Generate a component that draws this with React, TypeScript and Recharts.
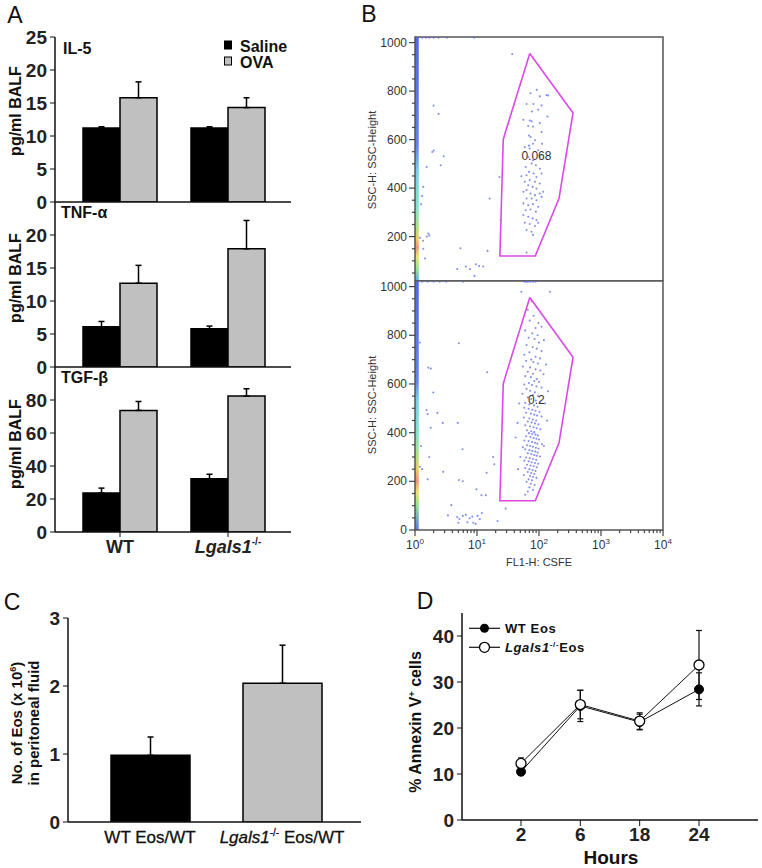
import React from 'react';
import {
  BarChart, Bar, XAxis, YAxis, ErrorBar, Cell, ScatterChart, Scatter,
  ReferenceArea, ReferenceDot, LineChart, Line,
} from 'recharts';

const FONT = '"Liberation Sans", Arial, Helvetica, sans-serif';

// ---------- A: BALF cytokines (pg/ml)
const genotypes = ['WT', 'Lgals1-/-'];
const il5Saline = [11.2, 11.2];
const il5SalineErr = [0.2, 0.2];
const il5Ova = [15.8, 14.3];
const il5OvaErr = [2.4, 1.5];
const tnfSaline = [6.1, 5.8];
const tnfSalineErr = [0.8, 0.4];
const tnfOva = [12.7, 17.9];
const tnfOvaErr = [2.7, 4.3];
const tgfSaline = [23.6, 32.3];
const tgfSalineErr = [3.0, 2.7];
const tgfOva = [73.7, 82.4];
const tgfOvaErr = [5.4, 4.4];

// ---------- B: flow cytometry (FL1-H, SSC-H)
const gateVertices: [number, number][] = [
  [71, 955], [354, 710], [210, 357], [87, 120], [23.4, 120], [26.5, 600], [28.5, 628], [71, 955],
];
const topEvents: [number, number][] = [
  [92, 805], [73, 791], [132, 784], [103, 778], [140, 782], [63, 747], [81, 747], [110, 741],
  [77, 716], [97, 723], [137, 695], [56, 682], [71, 679], [76, 675], [103, 668], [67, 656],
  [80, 654], [69, 617], [110, 631], [73, 611], [86, 597], [80, 583], [69, 575], [112, 583],
  [59, 569], [71, 563], [97, 556], [67, 528], [103, 528], [80, 515], [76, 501], [89, 494],
  [61, 487], [103, 480], [69, 467], [82, 460], [52, 449], [63, 453], [91, 446], [110, 460],
  [59, 426], [71, 433], [86, 426], [103, 419], [67, 412], [79, 405], [63, 392], [91, 398],
  [117, 385], [56, 385], [73, 378], [86, 371], [103, 378], [63, 357], [76, 357], [91, 350],
  [110, 364], [56, 337], [67, 330], [80, 334], [97, 323], [61, 309], [73, 312], [89, 303],
  [56, 289], [67, 282], [79, 275], [91, 268], [59, 257], [71, 252], [86, 244], [63, 227],
  [76, 220], [97, 257], [80, 207], [63, 134],
  [2.0, 740], [2.4, 706], [1.9, 549], [2.0, 555], [2.9, 531], [2.6, 494], [1.54, 487],
  [1.36, 405], [1.3, 367], [1.25, 333], [1.64, 213], [1.7, 205], [1.55, 200], [1.35, 183],
  [1.2, 195], [1.36, 150], [1.45, 110], [5.4, 152], [4.8, 66], [6.6, 77], [7.7, 66],
  [9.6, 86], [10.8, 79], [12.6, 77], [9.1, 38], [14.8, 141], [16, 357], [23, 446],
  [24, 268], [37, 953], [1.1, 890],
];
const topSaturated: [number, number][] = [
  [1.1, 1020], [1.3, 1020], [1.5, 1020], [1.7, 1020], [2.0, 1020], [2.4, 1020], [3.3, 1020], [9, 1020],
];
const bottomEvents: [number, number][] = [
  [76, 940], [92, 915], [66, 905], [82, 880], [71, 860], [98, 850], [88, 830], [60, 820],
  [110, 835], [78, 808], [95, 800], [68, 790], [85, 785], [120, 780], [100, 770], [63, 760],
  [79, 752], [92, 745], [110, 735], [70, 730], [58, 720], [88, 712], [104, 705], [75, 700],
  [62, 695], [81, 690], [96, 684], [130, 680], [55, 672], [72, 668], [88, 660], [105, 655],
  [66, 650], [80, 642], [118, 640], [60, 632], [74, 628], [92, 620], [84, 612], [100, 608],
  [69, 604], [58, 598], [77, 596], [91, 590], [110, 585], [63, 580], [72, 572], [86, 566],
  [140, 570], [54, 560], [80, 555], [97, 550], [66, 545], [75, 538], [89, 532], [104, 528],
  [60, 522], [70, 516], [83, 512], [95, 506], [125, 520], [58, 502], [68, 498], [78, 494],
  [88, 490], [102, 486], [62, 482], [74, 478], [84, 474], [93, 470], [110, 466], [57, 462],
  [70, 458], [80, 454], [90, 450], [66, 446], [76, 442], [86, 438], [98, 434], [60, 430],
  [72, 426], [82, 422], [92, 418], [105, 414], [64, 410], [75, 406], [84, 402], [135, 450],
  [69, 398], [78, 395], [88, 392], [96, 388], [62, 385], [73, 382], [82, 378], [91, 375],
  [100, 372], [58, 368], [68, 365], [77, 362], [86, 358], [94, 355], [112, 352], [64, 348],
  [72, 345], [80, 342], [89, 338], [98, 335], [60, 332], [70, 328], [78, 325], [87, 322],
  [95, 318], [66, 315], [75, 312], [84, 308], [92, 305], [104, 302], [120, 345], [55, 340],
  [62, 298], [71, 295], [80, 292], [90, 288], [58, 285], [68, 282], [76, 278], [86, 275],
  [97, 272], [64, 268], [73, 265], [82, 262], [92, 258], [60, 255], [70, 250], [79, 246],
  [88, 242], [66, 238], [75, 234], [84, 230], [57, 226], [72, 222], [80, 218], [91, 214],
  [68, 208], [77, 204], [63, 198], [74, 190], [85, 185], [70, 175], [80, 165], [66, 158],
  [60, 145], [48, 520], [45, 440], [42, 380], [50, 300], [46, 250],
  [5.1, 767], [1.2, 770], [1.64, 667], [1.8, 663], [1.97, 565], [14.6, 648], [1.54, 493],
  [1.6, 476], [2.3, 481], [1.8, 420], [2.8, 440], [4.9, 440], [5.85, 332], [1.25, 345],
  [1.7, 300], [1.2, 260], [1.3, 250], [2.85, 239], [1.6, 208], [5.1, 205], [5.9, 200],
  [14.3, 235], [9.8, 167], [11.8, 143], [13.9, 143], [18.2, 300], [19, 270], [3.85, 102],
  [3.4, 60], [4.8, 53], [5.2, 45], [5.9, 58], [6.6, 62], [7.6, 48], [8.4, 55], [8.7, 30],
  [10.2, 58], [11.1, 45], [12, 70], [9.5, 25], [7, 32], [5, 30], [21.5, 37], [29, 88],
  [52, 979], [150, 979],
];
const bottomSaturated: [number, number][] = [
  [1.1, 1020], [1.3, 1020], [1.6, 1020], [2.0, 1020], [2.5, 1020], [3.2, 1020], [6, 1020],
  [58, 1020], [62, 1020], [66, 1020], [72, 1020], [80, 1020], [88, 1020],
];
const flowXTicks = [
  1, 2, 3, 4, 5, 6, 7, 8, 9, 10, 20, 30, 40, 50, 60, 70, 80, 90, 100, 200, 300, 400, 500,
  600, 700, 800, 900, 1000, 2000, 3000, 4000, 5000, 6000, 7000, 8000, 9000, 10000,
];
const flowDecades = [1, 10, 100, 1000, 10000];
const flowExponents = ['0', '1', '2', '3', '4'];
const topYTicks = [50, 100, 150, 200, 250, 300, 350, 400, 450, 500, 550, 600, 650, 700, 750, 800, 850, 900, 950, 1000];
const bottomYTicks = [0, 50, 100, 150, 200, 250, 300, 350, 400, 450, 500, 550, 600, 650, 700, 750, 800, 850, 900, 950, 1000];

// ---------- C: transferred eosinophils
const transferGroups = ['WT Eos/WT', 'Lgals1-/- Eos/WT'];
const transferEos = [0.98, 2.04];
const transferErr = [0.27, 0.56];
const transferFills = ['#000000', '#c0c0c0'];

// ---------- D: annexin V
const hours = ['2', '6', '18', '24'];
const wtAnnexin = [10.5, 24.8, 21.3, 28.4];
const wtAnnexinErr = [0.6, 3.4, 1.7, 3.6];
const koAnnexin = [12.3, 25.1, 21.5, 33.7];
const koAnnexinErr = [1.2, 3.1, 1.8, 7.5];

const cytokineRows = (sal: number[], salErr: number[], ova: number[], ovaErr: number[]) =>
  genotypes.map((g, i) => ({ genotype: g, saline: sal[i], salineErr: [0, salErr[i]], ova: ova[i], ovaErr: [0, ovaErr[i]] }));

const toPoints = (pts: [number, number][]) => pts.map(([x, y]) => ({ x, y }));

const axisLine = { stroke: '#111', strokeWidth: 1.5 };
const tickFont = { fontSize: 19, fontWeight: 700, fill: '#222' };

function GenotypeTick(props: any) {
  const { x, y, payload } = props;
  return (
    <text x={x} y={y} dy={14} textAnchor="middle" fontSize={18} fontWeight={700} fill="#222">
      {payload.value === 'WT' ? 'WT' : (
        <>
          <tspan fontStyle="italic">Lgals1</tspan>
          <tspan fontSize={10} dy={-8}>-/-</tspan>
        </>
      )}
    </text>
  );
}

function TransferTick(props: any) {
  const { x, y, payload } = props;
  return (
    <text x={x} y={y} dy={21} textAnchor="middle" fontSize={17} fill="#111" stroke="#111" strokeWidth={0.3}>
      {payload.value === 'WT Eos/WT' ? 'WT Eos/WT' : (
        <>
          <tspan fontStyle="italic">Lgals1</tspan>
          <tspan fontSize={10} dy={-7}>-/-</tspan>
          <tspan dy={7}> Eos/WT</tspan>
        </>
      )}
    </text>
  );
}

function FlowYTick(props: any) {
  const { x, y, payload } = props;
  const major = payload.value % 200 === 0;
  return (
    <g>
      <line x1={x - (major ? 6 : 3)} x2={x} y1={y} y2={y} stroke="#444" strokeWidth={1.2} />
      {major && (
        <text x={x - 8} y={y} dy={4} textAnchor="end" fontSize={12} fill="#333">{payload.value}</text>
      )}
    </g>
  );
}

function FlowXTick(props: any) {
  const { x, y, payload } = props;
  const k = flowDecades.indexOf(payload.value);
  return (
    <g>
      <line x1={x} x2={x} y1={y} y2={y + (k >= 0 ? 6 : 3)} stroke="#444" strokeWidth={1.2} />
      {k >= 0 && (
        <text x={x} y={y + 19} textAnchor="middle" fontSize={12} fill="#333">
          10<tspan fontSize={8} dy={-5}>{flowExponents[k]}</tspan>
        </text>
      )}
    </g>
  );
}

function CytokinePlot({ rows, yMax, ticks, top, showGenotypes }: any) {
  return (
    <div style={{ position: 'absolute', left: 0, top: top - 20 }}>
      <BarChart width={300} height={215} data={rows} margin={{ top: 20, right: 9, bottom: 0, left: 0 }} barGap={0} barSize={37}>
        <XAxis dataKey="genotype" padding={{ left: 11, right: 9 }} height={30} axisLine={axisLine}
          tickLine={showGenotypes ? { stroke: '#111' } : false} tickSize={5} tickMargin={2} interval={0}
          tick={showGenotypes ? <GenotypeTick /> : false} />
        <XAxis xAxisId="top" orientation="top" dataKey="genotype" height={0} axisLine={axisLine} tick={false} tickLine={false} />
        <YAxis width={55} domain={[0, yMax]} ticks={ticks} interval={0} allowDataOverflow axisLine={axisLine}
          tickLine={{ stroke: '#111' }} tickSize={5} tickMargin={3} tick={tickFont} />
        <YAxis yAxisId="right" orientation="right" width={0} axisLine={axisLine} tick={false} tickLine={false} />
        <Bar dataKey="saline" fill="#000" stroke="#000" strokeWidth={1.5} isAnimationActive={false}>
          <ErrorBar dataKey="salineErr" width={3} stroke="#000" strokeWidth={1.5} />
        </Bar>
        <Bar dataKey="ova" fill="#c0c0c0" stroke="#000" strokeWidth={1.5} isAnimationActive={false}>
          <ErrorBar dataKey="ovaErr" width={3} stroke="#000" strokeWidth={1.5} />
        </Bar>
      </BarChart>
    </div>
  );
}

function FlowPlot({ top, height, yMin, yTicks, events, saturated, freq, gradId, stops, showX }: any) {
  const dot = (p: any) => <circle cx={p.cx} cy={p.cy} r={1.05} fill="#5b6ce6" fillOpacity={0.75} />;
  return (
    <div style={{ position: 'absolute', left: 360, top }}>
      <ScatterChart width={313} height={height} margin={{ top: 17, right: 10, bottom: 0, left: 0 }}>
        <defs>
          <linearGradient id={gradId} x1="0" y1="0" x2="0" y2="1">
            {stops.map(([o, c]: [string, string]) => <stop key={o} offset={o} stopColor={c} />)}
          </linearGradient>
        </defs>
        <XAxis type="number" dataKey="x" scale="log" domain={[1, 10000]} allowDataOverflow height={showX ? 40 : 0}
          ticks={flowXTicks} interval={0} tickSize={0} tickMargin={0} tickLine={false} axisLine={false}
          tick={showX ? <FlowXTick /> : false} />
        <YAxis type="number" dataKey="y" domain={[yMin, 1023]} allowDataOverflow width={55} ticks={yTicks}
          interval={0} tickSize={0} tickMargin={0} tickLine={false} axisLine={false} tick={<FlowYTick />} />
        <ReferenceArea x1={1} x2={1.15} y1={yMin} y2={1023} fill={`url(#${gradId})`} fillOpacity={0.85} stroke="none" />
        <ReferenceArea x1={1} x2={10000} y1={yMin} y2={1023} fill="none" stroke="#555" strokeWidth={1.5} />
        <Scatter data={toPoints(events)} shape={dot} isAnimationActive={false} />
        <Scatter data={toPoints(saturated)} shape={dot} isAnimationActive={false} />
        <Scatter data={toPoints(gateVertices)} line={{ stroke: '#d94ae6', strokeWidth: 1.6 }} shape={() => <g />} isAnimationActive={false} />
        <ReferenceDot x={freq[0]} y={freq[1]} r={0} stroke="none" fill="none"
          label={{ value: freq[2], position: 'center', fontSize: 12, fill: '#333' }} />
      </ScatterChart>
    </div>
  );
}

const topStops = [
  ['0', '#3050e0'], ['0.45', '#4a70e8'], ['0.55', '#60c8e8'], ['0.7', '#70e0c0'], ['0.78', '#a0e070'],
  ['0.83', '#f0c040'], ['0.86', '#f08060'], ['0.9', '#e8e050'], ['0.95', '#80e080'], ['1', '#40a0e0'],
];
const bottomStops = [
  ['0', '#3050e0'], ['0.4', '#4a70e8'], ['0.48', '#60c8e8'], ['0.62', '#70e0c0'], ['0.7', '#a0e070'],
  ['0.76', '#f0c040'], ['0.8', '#f08060'], ['0.85', '#e8e050'], ['0.9', '#80e080'], ['1', '#4060e0'],
];

const Txt = ({ x, y, size, bold, rotate, children, style }: any) => (
  <div style={{
    position: 'absolute', left: x, top: y, whiteSpace: 'nowrap', fontSize: size,
    fontWeight: bold ? 700 : 400, color: '#111', lineHeight: 1,
    transform: `translate(-50%, -50%)${rotate ? ' rotate(-90deg)' : ''}`, ...style,
  }}>{children}</div>
);

export default function App() {
  const transferRows = transferGroups.map((g, i) => ({ group: g, eos: transferEos[i], err: [0, transferErr[i]] }));
  const annexinRows = hours.map((h, i) => ({
    hour: h, wt: wtAnnexin[i], wtErr: wtAnnexinErr[i], ko: koAnnexin[i], koErr: koAnnexinErr[i],
  }));

  return (
    <div style={{ position: 'absolute', left: 0, top: 0, width: 762, height: 868, background: '#fff', fontFamily: FONT, overflow: 'hidden' }}>
      {/* A */}
      <CytokinePlot rows={cytokineRows(il5Saline, il5SalineErr, il5Ova, il5OvaErr)} yMax={25} ticks={[0, 5, 10, 15, 20, 25]} top={37} />
      <CytokinePlot rows={cytokineRows(tnfSaline, tnfSalineErr, tnfOva, tnfOvaErr)} yMax={25} ticks={[0, 5, 10, 15, 20]} top={202} />
      <CytokinePlot rows={cytokineRows(tgfSaline, tgfSalineErr, tgfOva, tgfOvaErr)} yMax={100} ticks={[0, 20, 40, 60, 80]} top={367} showGenotypes />
      <svg style={{ position: 'absolute', left: 220, top: 36 }} width={80} height={36}>
        <rect x={4.5} y={5} width={7} height={8} fill="#000" stroke="#000" />
        <text x={20} y={16} fontSize={16} fontWeight={700} fill="#111">Saline</text>
        <rect x={4.5} y={21} width={7} height={8} fill="#c0c0c0" stroke="#000" />
        <text x={20} y={32} fontSize={16} fontWeight={700} fill="#111">OVA</text>
      </svg>

      {/* B */}
      <FlowPlot top={20} height={261} yMin={17} yTicks={topYTicks} events={topEvents} saturated={topSaturated}
        freq={[91, 535, '0.068']} gradId="stripTop" stops={topStops} />
      <FlowPlot top={264} height={306} yMin={0} yTicks={bottomYTicks} events={bottomEvents} saturated={bottomSaturated}
        freq={[91, 534, '0.2']} gradId="stripBottom" stops={bottomStops} showX />

      {/* C */}
      <div style={{ position: 'absolute', left: 0, top: 600 }}>
        <BarChart width={380} height={256} data={transferRows} margin={{ top: 18, right: 19, bottom: 0, left: 0 }} barSize={79}>
          <XAxis dataKey="group" padding={{ left: 16, right: 13 }} height={34} axisLine={axisLine} tickLine={false}
            tickSize={0} tickMargin={0} interval={0} tick={<TransferTick />} />
          <XAxis xAxisId="top" orientation="top" dataKey="group" height={0} axisLine={axisLine} tick={false} tickLine={false} />
          <YAxis width={68} domain={[0, 3]} ticks={[0, 1, 2, 3]} interval={0} allowDataOverflow axisLine={axisLine}
            tickLine={{ stroke: '#111' }} tickSize={5} tickMargin={3} tick={tickFont} />
          <YAxis yAxisId="right" orientation="right" width={0} axisLine={axisLine} tick={false} tickLine={false} />
          <Bar dataKey="eos" stroke="#000" strokeWidth={1.5} isAnimationActive={false}>
            {transferRows.map((r, i) => <Cell key={r.group} fill={transferFills[i]} />)}
            <ErrorBar dataKey="err" width={3} stroke="#000" strokeWidth={1.5} />
          </Bar>
        </BarChart>
      </div>

      {/* D */}
      <div style={{ position: 'absolute', left: 400, top: 595 }}>
        <LineChart width={362} height={273} data={annexinRows} margin={{ top: 18, right: 4, bottom: 0, left: 0 }}>
          <XAxis dataKey="hour" padding={{ left: 59, right: 59 }} height={48} axisLine={axisLine}
            tickLine={{ stroke: '#111' }} tickSize={6} tickMargin={2} interval={0} tick={tickFont} />
          <XAxis xAxisId="top" orientation="top" dataKey="hour" height={0} axisLine={axisLine} tick={false} tickLine={false} />
          <YAxis width={62} domain={[0, 45]} ticks={[0, 10, 20, 30, 40]} interval={0} allowDataOverflow axisLine={axisLine}
            tickLine={{ stroke: '#111' }} tickSize={5} tickMargin={3} tick={tickFont} />
          <YAxis yAxisId="right" orientation="right" width={0} axisLine={axisLine} tick={false} tickLine={false} />
          <Line dataKey="wt" stroke="#111" strokeWidth={1} isAnimationActive={false}
            dot={{ r: 4.5, fill: '#000', stroke: '#000', strokeWidth: 1 }}>
            <ErrorBar dataKey="wtErr" width={3} stroke="#111" strokeWidth={1.2} />
          </Line>
          <Line dataKey="ko" stroke="#111" strokeWidth={1} isAnimationActive={false}
            dot={{ r: 5, fill: '#fff', stroke: '#000', strokeWidth: 1.3 }}>
            <ErrorBar dataKey="koErr" width={3} stroke="#111" strokeWidth={1.2} />
          </Line>
        </LineChart>
      </div>
      <svg style={{ position: 'absolute', left: 465, top: 618 }} width={160} height={42}>
        <line x1={4} x2={35} y1={10.3} y2={10.3} stroke="#111" strokeWidth={1.2} />
        <circle cx={19.5} cy={10.3} r={4.5} fill="#000" />
        <text x={40} y={15} fontSize={13} fontWeight={700} fill="#111" letterSpacing={0.6}>WT Eos</text>
        <line x1={4} x2={35} y1={29.3} y2={29.3} stroke="#111" strokeWidth={1.2} />
        <circle cx={19.5} cy={29.3} r={5} fill="#fff" stroke="#000" strokeWidth={1.3} />
        <text x={40} y={34} fontSize={13} fontWeight={700} fill="#111" letterSpacing={0.6}>
          <tspan fontStyle="italic">Lgals1</tspan><tspan fontSize={8} dy={-5}>-/-</tspan><tspan dy={5}>Eos</tspan>
        </text>
      </svg>

      {/* panel letters and axis titles */}
      <Txt x={15} y={15} size={23}>A</Txt>
      <Txt x={369} y={14} size={23}>B</Txt>
      <Txt x={12} y={602} size={23}>C</Txt>
      <Txt x={425} y={601} size={23}>D</Txt>

      <Txt x={16} y={111} size={16} bold rotate>pg/ml BALF</Txt>
      <Txt x={16} y={278} size={16} bold rotate>pg/ml BALF</Txt>
      <Txt x={16} y={444} size={16} bold rotate>pg/ml BALF</Txt>
      <Txt x={63} y={49} size={16} bold style={{ transform: 'translate(0, -50%)' }}>IL-5</Txt>
      <Txt x={61} y={213} size={16} bold style={{ transform: 'translate(0, -50%)' }}>TNF-α</Txt>
      <Txt x={61} y={378} size={16} bold style={{ transform: 'translate(0, -50%)' }}>TGF-β</Txt>

      <Txt x={372} y={160} size={11} rotate style={{ color: '#333' }}>SSC-H: SSC-Height</Txt>
      <Txt x={372} y={405} size={11} rotate style={{ color: '#333' }}>SSC-H: SSC-Height</Txt>
      <Txt x={539} y={562} size={11} style={{ color: '#333' }}>FL1-H: CSFE</Txt>

      <Txt x={16} y={723} size={15} bold rotate>No. of Eos (x 10<sup style={{ fontSize: 9 }}>6</sup>)</Txt>
      <Txt x={33} y={723} size={15} bold rotate>in peritoneal fluid</Txt>

      <Txt x={416} y={722} size={16} bold rotate>% Annexin V<sup style={{ fontSize: 9 }}>+</sup> cells</Txt>
      <Txt x={611} y={857} size={19} bold>Hours</Txt>
    </div>
  );
}
